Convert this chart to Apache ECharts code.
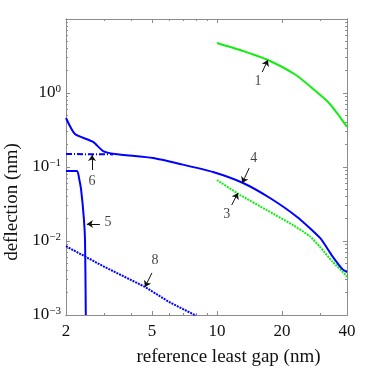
<!DOCTYPE html>
<html>
<head>
<meta charset="utf-8">
<script src="https://cdn.jsdelivr.net/npm/echarts@6/dist/echarts.min.js"></script>
<style>
  html, body { margin: 0; padding: 0; background: #fff; }
  #main { width: 376px; height: 382px; }
</style>
</head>
<body>
<div id="main"></div>
<script>
// curves, [gap (nm), deflection (nm)]
const curve1 = [[10, 4.74], [13, 3.75], [17.2, 2.79], [23.2, 1.75], [28, 1.12], [33, 0.733], [37, 0.48], [40, 0.347]];
const curve3 = [[10, 0.0667], [12.8, 0.0418], [17, 0.0262], [22.5, 0.0164], [27, 0.0115], [30, 0.0083], [34.4, 0.0052], [38, 0.0039], [40, 0.00327]];
const curve4 = [[2, 0.459], [2.2, 0.279], [2.67, 0.218], [2.97, 0.164], [3.37, 0.150], [5.06, 0.132], [6.74, 0.110], [9.59, 0.0855],
  [13.2, 0.0608], [17.6, 0.0381], [23.5, 0.0211], [30, 0.011], [34.4, 0.0061], [38, 0.0042], [40, 0.0038]];
const curve5 = [[2, 0.0883], [2.25, 0.0883], [2.3, 0.07], [2.35, 0.049], [2.42, 0.02], [2.45, 0.01], [2.47, 0.001]];
const curve6 = [[2, 0.150], [3.3, 0.148]];
const curve8 = [[2, 0.0085], [3, 0.0045], [4.64, 0.0024], [6, 0.0015], [8, 0.00098]];

// arrows: tail -> tip, and label spots
const arrowText = ['1', '3', '4', '5', '6', '8'];
const arrowTail = [[16.2, 1.92], [11.7, 0.0306], [14.1, 0.0968], [2.87, 0.017], [2.64, 0.091], [5.0, 0.0037]];
const arrowTip = [[17.2, 2.79], [12.5, 0.0445], [13.1, 0.0608], [2.50, 0.017], [2.64, 0.145], [4.64, 0.00239]];
const labelAt = [[15.5, 1.45], [11.1, 0.0232], [14.8, 0.132], [3.13, 0.0181], [2.64, 0.0647], [5.16, 0.0054]];

// tick positions
const xMajor = [2, 5, 10, 20, 40];
const xMinor = [3, 4, 6, 7, 8, 9, 30];
const yMajor = [0.001, 0.01, 0.1, 1, 10];
const yMinor = [];
[0.001, 0.01, 0.1, 1].forEach((d) => {
  for (let k = 2; k <= 9; k++) yMinor.push(+(d * k).toPrecision(3));
});

const serif = 'Liberation Serif';
const axisGray = '#8c8c8c';
const blue = '#0000ff';
const green = '#11ee11';

const chart = echarts.init(document.getElementById('main'));

function xAx(pos, ticks, len, showLabel, name) {
  return {
    type: 'log', position: pos, min: 2, max: 40, logBase: 10,
    name: name || '', nameLocation: 'middle', nameGap: 33,
    nameTextStyle: { fontFamily: serif, fontSize: 19, color: '#111', padding: [0, 0, 0, 44] },
    axisLine: { show: true, lineStyle: { color: axisGray, width: 1 } },
    axisTick: { show: true, inside: true, length: len, customValues: ticks, lineStyle: { color: axisGray } },
    axisLabel: { show: showLabel, customValues: ticks, margin: 8, fontFamily: serif, fontSize: 17, color: '#111' },
    splitLine: { show: false }, minorTick: { show: false },
  };
}

function yAx(pos, ticks, len, showLabel, name) {
  return {
    type: 'log', position: pos, min: 0.001, max: 10, logBase: 10,
    name: name || '', nameLocation: 'middle', nameGap: 44,
    nameTextStyle: { fontFamily: serif, fontSize: 19, color: '#111', padding: [0, 70, 0, 0] },
    axisLine: { show: true, lineStyle: { color: axisGray, width: 1 } },
    axisTick: { show: true, inside: true, length: len, customValues: ticks, lineStyle: { color: axisGray } },
    axisLabel: {
      show: showLabel, customValues: ticks, margin: 5,
      formatter: (v) => {
        const e = Math.round(Math.log10(v));
        if (e > 0) return '';
        return '{b|10}{s|' + (e === 0 ? '0' : '\u2212' + (-e)) + '}';
      },
      rich: {
        b: { fontFamily: serif, fontSize: 17, color: '#111' },
        s: { fontFamily: serif, fontSize: 11, color: '#111', verticalAlign: 'top', padding: [0, 0, 8, 0] },
      },
    },
    splitLine: { show: false }, minorTick: { show: false },
  };
}

function line(data, color, type, smooth) {
  return {
    type: 'line', data: data, showSymbol: false, smooth: smooth, clip: true,
    lineStyle: { color: color, width: 2, type: type || 'solid' },
    z: 3,
  };
}

const option = {
  animation: false,
  grid: { left: 66, right: 29, top: 19, bottom: 67, outerBoundsMode: 'none', containLabel: false },
  xAxis: [
    xAx('bottom', xMajor, 4, true, 'reference least gap (nm)'),
    xAx('bottom', xMinor, 2, false),
    xAx('top', xMajor, 4, false),
    xAx('top', xMinor, 2, false),
  ],
  yAxis: [
    yAx('left', yMajor, 4, true, 'deflection (nm)'),
    yAx('left', yMinor, 2, false),
    yAx('right', yMajor, 4, false),
    yAx('right', yMinor, 2, false),
  ],
  series: [
    line(curve1, green, 'solid', 0.2),
    line(curve3, green, [2, 1], 0.2),
    line(curve4, blue, 'solid', 0.2),
    line(curve5, blue, 'solid', 0.2),
    line(curve6, blue, [6, 2, 1, 2], false),
    line(curve8, blue, [2, 1], false),
    {
      type: 'lines', coordinateSystem: 'cartesian2d',
      data: arrowTail.map((t, i) => ({ coords: [t, arrowTip[i]] })),
      symbol: ['none', 'arrow'], symbolSize: 6,
      lineStyle: { color: '#111', width: 1, opacity: 1 }, z: 5,
    },
    {
      type: 'scatter', symbolSize: 0,
      data: labelAt.map((p, i) => ({ value: p, name: arrowText[i] })),
      label: { show: true, position: 'inside', formatter: '{b}', fontFamily: serif, fontSize: 14, color: '#111' },
      z: 5,
    },
  ],
};

chart.setOption(option);
</script>
</body>
</html>
